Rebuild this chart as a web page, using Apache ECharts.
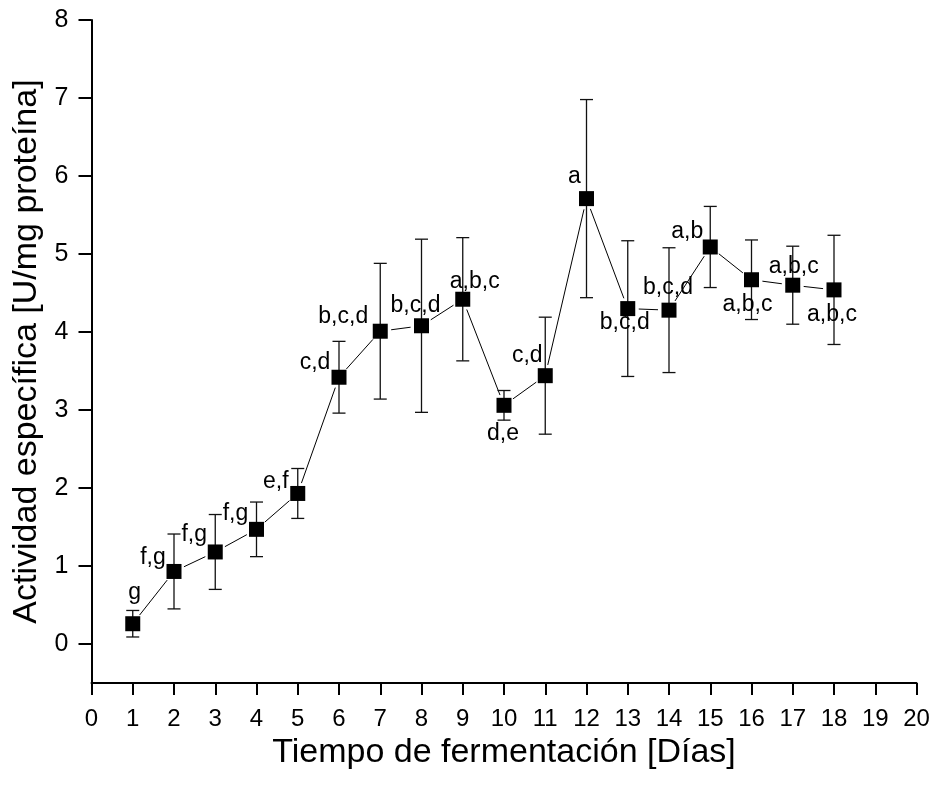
<!DOCTYPE html>
<html>
<head>
<meta charset="utf-8">
<script src="https://cdn.jsdelivr.net/npm/echarts@6/dist/echarts.min.js"></script>
<style>
  html, body { margin: 0; padding: 0; background: #fff; }
  #chart { width: 935px; height: 788px; }
</style>
</head>
<body>
<div id="chart"></div>
<script>
// Fermentation day, mean specific activity and its standard deviation
const dias = [1, 2, 3, 4, 5, 6, 7, 8, 9, 10, 11, 12, 13, 14, 15, 16, 17, 18];
const actividad = [0.26, 0.93, 1.18, 1.47, 1.93, 3.42, 4.01, 4.08, 4.42, 3.06, 3.44, 5.71, 4.30, 4.28, 5.09, 4.67, 4.60, 4.54];
const desviacion = [0.17, 0.48, 0.48, 0.35, 0.32, 0.46, 0.87, 1.11, 0.79, 0.19, 0.75, 1.27, 0.87, 0.80, 0.52, 0.51, 0.50, 0.70];
// Significance groups (Tukey letters)
const letras = ['g', 'f,g', 'f,g', 'f,g', 'e,f', 'c,d', 'b,c,d', 'b,c,d', 'a,b,c', 'd,e', 'c,d', 'a', 'b,c,d', 'b,c,d', 'a,b', 'a,b,c', 'a,b,c', 'a,b,c'];
const yTicks = [0, 1, 2, 3, 4, 5, 6, 7, 8];

// Where each letter label sits relative to its marker (pixels)
const labelOffsets = [
  [2, -31], [-21, -14], [-21, -17], [-21, -16], [-22, -12], [-24, -15],
  [-37, -15], [-6, -20], [12, -18], [-1, 28], [-18, -20], [-12, -22],
  [-3, 14], [-1, -23], [-23, -15], [-4, 25], [1, -19], [-2, 25]
];

const FONT = '"Liberation Sans", Arial, Helvetica, sans-serif';

const points = dias.map((d, i) => [d, actividad[i]]);
const errData = dias.map((d, i) => [d, actividad[i], actividad[i] - desviacion[i], actividad[i] + desviacion[i]]);
const segData = dias.slice(1).map((d, i) => [dias[i], actividad[i], d, actividad[i + 1]]);

const chart = echarts.init(document.getElementById('chart'), null, { renderer: 'canvas' });

chart.setOption({
  animation: false,
  backgroundColor: '#ffffff',
  grid: { left: 91.5, right: 18.5, top: 20, bottom: 105 },
  xAxis: {
    type: 'value', min: 0, max: 20, interval: 1,
    name: 'Tiempo de fermentación [Días]',
    nameLocation: 'middle', nameGap: 49,
    nameTextStyle: { fontFamily: FONT, fontSize: 34, color: '#000' },
    axisLine: { onZero: false, lineStyle: { color: '#000', width: 2 } },
    axisTick: { inside: false, length: 12, lineStyle: { color: '#000', width: 2 } },
    axisLabel: { margin: 24, fontFamily: FONT, fontSize: 24, color: '#000' },
    splitLine: { show: false }
  },
  yAxis: {
    type: 'value', min: -0.5, max: 8,
    name: 'Actividad específica [U/mg proteína]',
    nameLocation: 'middle', nameGap: 44, nameRotate: 90,
    nameTextStyle: { fontFamily: FONT, fontSize: 34, color: '#000' },
    axisLine: { show: true, onZero: false, lineStyle: { color: '#000', width: 2 } },
    axisTick: { show: true, inside: false, length: 13, customValues: yTicks, lineStyle: { color: '#000', width: 2 } },
    axisLabel: { margin: 23, fontFamily: FONT, fontSize: 25, color: '#000', customValues: yTicks },
    splitLine: { show: false }
  },
  series: [
    {
      // connecting line, trimmed back from each marker
      type: 'custom',
      data: segData,
      silent: true,
      z: 1,
      renderItem: function (params, api) {
        const a = api.coord([api.value(0), api.value(1)]);
        const b = api.coord([api.value(2), api.value(3)]);
        const dx = b[0] - a[0], dy = b[1] - a[1];
        const len = Math.sqrt(dx * dx + dy * dy);
        const trim = 11;
        if (len <= 2 * trim) return null;
        const ux = dx / len, uy = dy / len;
        return {
          type: 'line',
          shape: { x1: a[0] + ux * trim, y1: a[1] + uy * trim, x2: b[0] - ux * trim, y2: b[1] - uy * trim },
          style: { stroke: '#000', lineWidth: 1 }
        };
      }
    },
    {
      // standard deviation bars with caps
      type: 'custom',
      data: errData,
      silent: true,
      z: 2,
      renderItem: function (params, api) {
        const x = api.value(0);
        const lo = api.coord([x, api.value(2)]);
        const hi = api.coord([x, api.value(3)]);
        const cap = 6.5;
        const st = { stroke: '#111', lineWidth: 1.3 };
        return {
          type: 'group',
          children: [
            { type: 'line', shape: { x1: lo[0], y1: lo[1], x2: hi[0], y2: hi[1] }, style: st },
            { type: 'line', shape: { x1: hi[0] - cap, y1: hi[1], x2: hi[0] + cap, y2: hi[1] }, style: st },
            { type: 'line', shape: { x1: lo[0] - cap, y1: lo[1], x2: lo[0] + cap, y2: lo[1] }, style: st }
          ]
        };
      }
    },
    {
      type: 'scatter',
      symbol: 'rect',
      symbolSize: 15,
      z: 3,
      itemStyle: { color: '#000', opacity: 1 },
      data: points.map((p, i) => ({
        value: p,
        label: {
          show: true,
          formatter: letras[i],
          position: 'inside',
          offset: labelOffsets[i],
          align: 'center',
          verticalAlign: 'middle',
          fontFamily: FONT,
          fontSize: 23,
          color: '#000'
        }
      })),
      emphasis: { disabled: true }
    }
  ]
});
</script>
</body>
</html>
